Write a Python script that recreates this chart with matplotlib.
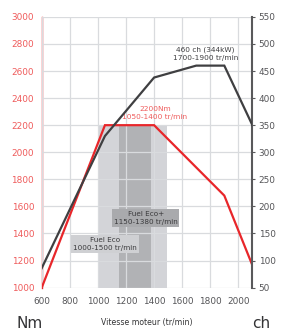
import matplotlib
matplotlib.use("Agg")
import matplotlib.pyplot as plt

# ---- data ----
rpm_torque = [600, 1050, 1400, 1900, 2100]
torque_nm = [1000, 2200, 2200, 1680, 1165]

rpm_power = [600, 1050, 1400, 1700, 1900, 2100]
power_ch = [86, 330, 438, 460, 460, 350]

eco_band = (1000, 1490)
eco_plus_band = (1150, 1380)

x_ticks = [600, 800, 1000, 1200, 1400, 1600, 1800, 2000]
left_ticks = [1000, 1200, 1400, 1600, 1800, 2000, 2200, 2400, 2600, 2800, 3000]
right_ticks = [50, 100, 150, 200, 250, 300, 350, 400, 450, 500, 550]

RED = "#e8262a"
RED_TXT = "#ef5b5b"
DARK = "#3f3f41"
GRID = "#d9dbde"
LIGHT_BAND = "#d3d4d8"
DARK_BAND = "#b1b2b5"
TXT = "#555558"

plt.rcParams['font.family'] = ['DejaVu Sans']

fig = plt.figure(figsize=(2.82, 3.31), dpi=100)
ax = fig.add_axes([0.148, 0.131, 0.747, 0.818])
ax.set_xlim(600, 2100)
ax.set_ylim(1000, 3000)

# bands
ax.axvspan(eco_band[0], eco_band[1], ymin=0, ymax=(2200 - 1000) / 2000,
           color=LIGHT_BAND, lw=0, zorder=1)
ax.axvspan(eco_plus_band[0], eco_plus_band[1], ymin=0, ymax=(2200 - 1000) / 2000,
           color=DARK_BAND, lw=0, zorder=1.2)

# grid
ax.set_xticks(x_ticks)
ax.set_yticks(left_ticks)
ax.grid(True, color=GRID, lw=0.9, zorder=1.5)
ax.set_axisbelow(False)
for gl in ax.get_xgridlines() + ax.get_ygridlines():
    gl.set_zorder(1.5)

ax.plot(rpm_torque, torque_nm, color=RED, lw=1.6, zorder=4, solid_joinstyle='miter')

ax.spines['top'].set_visible(False)
ax.spines['bottom'].set_visible(False)
ax.spines['right'].set_visible(False)
ax.spines['left'].set_color(RED)
ax.spines['left'].set_linewidth(1.0)
ax.tick_params(axis='y', length=0, pad=5.5, labelsize=6.4, labelcolor=RED_TXT)
ax.tick_params(axis='x', length=0, pad=6.5, labelsize=6.4, labelcolor=TXT)

ax2 = ax.twinx()
ax2.set_ylim(50, 550)
ax2.set_yticks(right_ticks)
ax2.plot(rpm_power, power_ch, color=DARK, lw=1.6, zorder=4, solid_joinstyle='miter')
for s in ['top', 'bottom', 'left']:
    ax2.spines[s].set_visible(False)
ax2.spines['right'].set_color("#59595b")
ax2.spines['right'].set_linewidth(1.5)
ax2.tick_params(axis='y', length=2.5, width=0.8, direction='out', pad=2,
                labelsize=6.4, labelcolor=TXT, color="#59595b")

# label boxes
ax.text(1340, 1515, "Fuel Eco+\n1150-1380 tr/min", ha='center', va='center',
        fontsize=5.2, color="#3a3a3c", linespacing=1.5, zorder=6,
        bbox=dict(boxstyle='square,pad=0.25', fc="#a9aaad", ec='none'))
ax.text(1050, 1323, "Fuel Eco\n1000-1500 tr/min", ha='center', va='center',
        fontsize=5.2, color="#3a3a3c", linespacing=1.5, zorder=6,
        bbox=dict(boxstyle='square,pad=0.25', fc="#cfd0d3", ec='none'))

ax.text(1405, 2290, "2200Nm\n1050-1400 tr/min", ha='center', va='center',
        fontsize=5.3, color=RED_TXT, linespacing=1.3, zorder=6)
ax2.text(1765, 482, "460 ch (344kW)\n1700-1900 tr/min", ha='center', va='center',
         fontsize=5.3, color=DARK, linespacing=1.45, zorder=6)

fig.text(17 / 282, 1 - 323 / 331, "Nm", ha='left', va='center', fontsize=11, color="#333335")
fig.text(252 / 282, 1 - 323 / 331, "ch", ha='left', va='center', fontsize=11, color="#333335")
fig.text(147 / 282, 1 - 323 / 331, "Vitesse moteur (tr/min)", ha='center', va='center',
         fontsize=5.6, color="#333335")

fig.savefig("out.png", dpi=100)
